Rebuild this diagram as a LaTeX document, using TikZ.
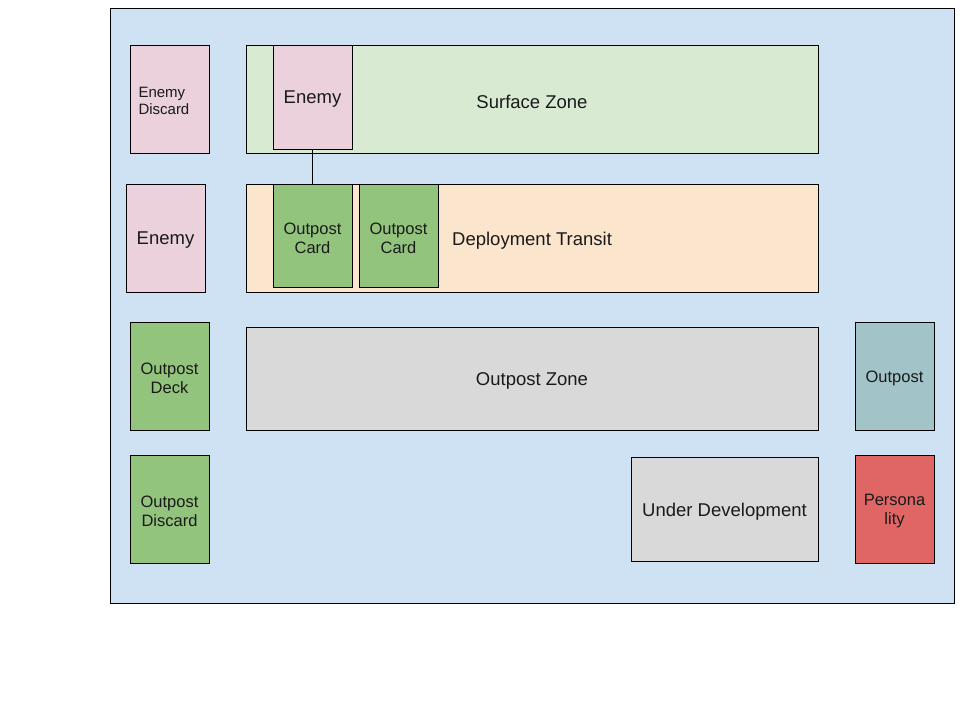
\documentclass[tikz,border=0pt]{standalone}
\usepackage{fontspec}
\setmainfont{Liberation Sans}
\definecolor{bgblue}{HTML}{CFE2F3}
\definecolor{pinkc}{HTML}{EAD1DC}
\definecolor{lgreen}{HTML}{D9EAD3}
\definecolor{peach}{HTML}{FCE5CD}
\definecolor{cgreen}{HTML}{93C47D}
\definecolor{lgray}{HTML}{D9D9D9}
\definecolor{teal}{HTML}{A2C4C9}
\definecolor{redc}{HTML}{E06666}
\definecolor{txt}{HTML}{1A1A1A}
\tikzset{
  shape box/.style={draw=black, line width=1pt, rectangle, inner sep=0pt},
  cardbox/.style={shape box, minimum width=79pt, minimum height=108pt},
  lbl/.style={text=txt, align=center, inner sep=0pt},
  smalltxt/.style={font=\fontsize{15}{17}\selectfont},
  midtxt/.style={font=\fontsize{16.5}{19}\selectfont},
  bigtxt/.style={font=\fontsize{18.5}{21}\selectfont},
}
\begin{document}
\begin{tikzpicture}[x=1pt,y=-1pt]
\useasboundingbox (0,0) rectangle (960,720);
% background
\node[draw=black, line width=1pt, fill=bgblue, rectangle, inner sep=0pt, minimum width=844pt, minimum height=595pt] (bg) at (532,305.5) {};
% zones
\node[shape box, fill=lgreen, minimum width=572pt, minimum height=108pt] (surf) at (532,99) {};
\node[lbl, bigtxt] (surflbl) at (532,101.5) {Surface Zone};
\node[shape box, fill=peach, minimum width=572pt, minimum height=108pt] (deploy) at (532,238) {};
\node[lbl, bigtxt, anchor=west] (deplbl) at (452,240.5) {Deployment Transit};
\node[shape box, fill=lgray, minimum width=572pt, minimum height=103pt] (opz) at (532,378.5) {};
\node[lbl, bigtxt] (opzlbl) at ([yshift=-2.5pt]opz.center) {Outpost Zone};
\node[shape box, fill=lgray, minimum width=187pt, minimum height=104pt] (undev) at (724.5,509) {};
\node[lbl, bigtxt] (undevlbl) at ([yshift=-2.5pt]undev.center) {Under Development};
% left column
\node[cardbox, fill=pinkc] (edisc) at (169.5,99) {};
\node[lbl, smalltxt, text width=62pt, align=left] (edlbl) at (169.5,100.5) {Enemy\\Discard};
\node[cardbox, fill=pinkc] (enemyl) at (165.5,238) {};
\node[lbl, bigtxt] (enemyllbl) at ([yshift=-2.5pt]enemyl.center) {Enemy};
\node[cardbox, fill=cgreen] (odeck) at (169.5,376) {};
\node[lbl, midtxt] (odecklbl) at ([yshift=-2.5pt]odeck.center) {Outpost\\Deck};
\node[cardbox, fill=cgreen] (odisc) at (169.5,509) {};
\node[lbl, midtxt] (odisclbl) at ([yshift=-2.5pt]odisc.center) {Outpost\\Discard};
% right column
\node[cardbox, fill=teal] (outpost) at (894.5,376) {};
\node[lbl, midtxt] (outpostlbl) at ([yshift=-2.5pt]outpost.center) {Outpost};
\node[cardbox, fill=redc] (pers) at (894.5,509) {};
\node[lbl, midtxt] (perslbl) at ([yshift=-2.5pt]pers.center) {Persona\\lity};
% cards in zones
\node[shape box, fill=pinkc, minimum width=79pt, minimum height=104pt] (enemys) at (312.5,97) {};
\node[lbl, bigtxt] (enlbl) at ([yshift=-2.5pt]enemys.center) {Enemy};
\node[shape box, fill=cgreen, minimum width=79pt, minimum height=103pt] (oc1) at (312.5,235.5) {};
\node[lbl, midtxt] (oc1lbl) at ([yshift=-2.5pt]oc1.center) {Outpost\\Card};
\node[shape box, fill=cgreen, minimum width=79pt, minimum height=103pt] (oc2) at (398.5,235.5) {};
\node[lbl, midtxt] (oc2lbl) at ([yshift=-2.5pt]oc2.center) {Outpost\\Card};
% connector
\draw[line width=1pt] (enemys.south) -- (oc1.north);
\end{tikzpicture}
\end{document}
